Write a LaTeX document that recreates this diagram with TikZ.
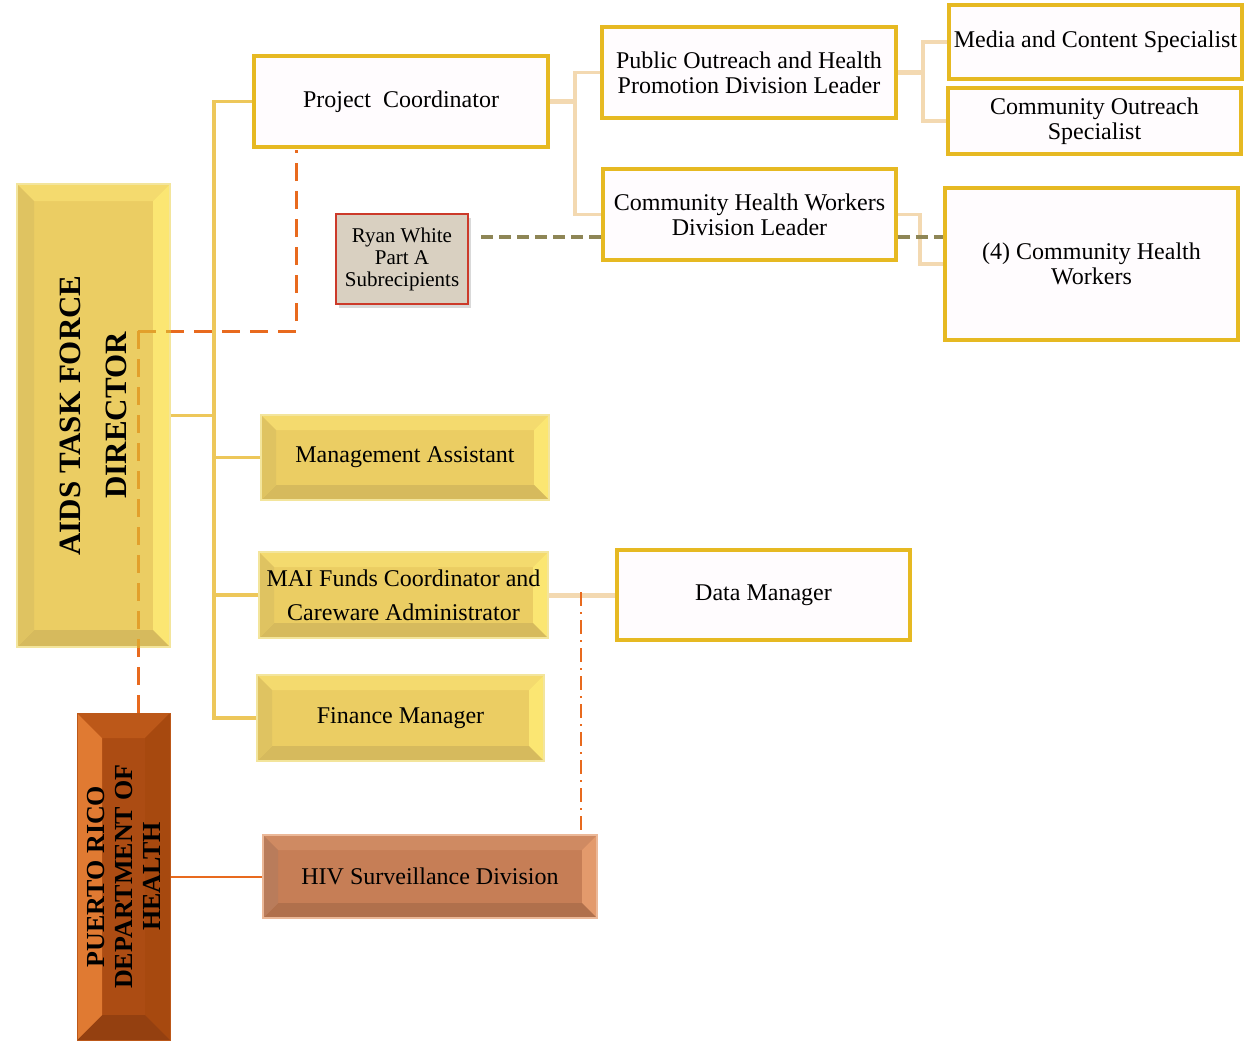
\documentclass[tikz,border=0pt]{standalone}
\usepackage{fontspec}
\setmainfont{Liberation Serif}
\usetikzlibrary{positioning,shadows}

\definecolor{goldface}{HTML}{EBCD63}
\definecolor{goldtop}{HTML}{F4DA6E}
\definecolor{goldright}{HTML}{FBE672}
\definecolor{goldbottom}{HTML}{D6BA5D}
\definecolor{goldleft}{HTML}{DFC361}
\definecolor{goldrim}{HTML}{F3E59C}
\definecolor{rustface}{HTML}{AC4C13}
\definecolor{rusttop}{HTML}{BC5819}
\definecolor{rustright}{HTML}{A7490F}
\definecolor{rustbottom}{HTML}{944010}
\definecolor{rustleft}{HTML}{E07A32}
\definecolor{clayface}{HTML}{C67E56}
\definecolor{claytop}{HTML}{CF8A62}
\definecolor{clayright}{HTML}{E39A6C}
\definecolor{claybottom}{HTML}{B0704C}
\definecolor{clayleft}{HTML}{B97C5B}
\definecolor{boxrim}{HTML}{E6B922}
\definecolor{paper}{HTML}{FFFCFE}
\definecolor{ryanfill}{HTML}{D9D0C1}
\definecolor{ryanrim}{HTML}{CC3A2A}
\definecolor{trunkcol}{HTML}{EDC75A}
\definecolor{tancol}{HTML}{F3D9B1}
\definecolor{dashorange}{HTML}{E86A1E}
\definecolor{dashinside}{HTML}{E2A02C}
\definecolor{olivecol}{HTML}{8E8656}

\tikzset{
  bevel/.style n args={5}{path picture={
    \coordinate (pnw) at (path picture bounding box.north west);
    \coordinate (pne) at (path picture bounding box.north east);
    \coordinate (pse) at (path picture bounding box.south east);
    \coordinate (psw) at (path picture bounding box.south west);
    \fill[#2] (pnw) -- (pne) -- ([xshift=-#1,yshift=-#1]pne) -- ([xshift=#1,yshift=-#1]pnw) -- cycle;
    \fill[#3] (pne) -- (pse) -- ([xshift=-#1,yshift=#1]pse) -- ([xshift=-#1,yshift=-#1]pne) -- cycle;
    \fill[#4] (pse) -- (psw) -- ([xshift=#1,yshift=#1]psw) -- ([xshift=-#1,yshift=#1]pse) -- cycle;
    \fill[#5] (psw) -- (pnw) -- ([xshift=#1,yshift=-#1]pnw) -- ([xshift=#1,yshift=#1]psw) -- cycle;
  }},
  goldbox/.style={draw=goldrim, line width=1.5pt, fill=goldface, inner sep=0pt,
    bevel={15pt}{goldtop}{goldright}{goldbottom}{goldleft}, align=center},
  whitebox/.style={draw=boxrim, line width=3.5pt, fill=paper, inner sep=0pt, align=center},
  bigtext/.style={font=\fontsize{24}{25}\selectfont},
  trunkline/.style={trunkcol, line width=3.5pt},
  tanline/.style={tancol, line width=3.5pt},
  orangedash/.style={dashorange, line width=3pt, dash pattern=on 18pt off 10pt},
  olivedash/.style={olivecol, line width=4pt, dash pattern=on 12pt off 6pt},
  orangedashdot/.style={dashorange, line width=2pt, dash pattern=on 14pt off 6pt on 2pt off 6pt}
}

\begin{document}
\begin{tikzpicture}[x=1pt, y=-1pt]
  \useasboundingbox (0,0) rectangle (1247,1041);

  % joints
  \coordinate (trunk) at (214,0);
  \coordinate (pcbus) at (575,0);
  \coordinate (pubbus) at (923,0);
  \coordinate (chwbus) at (920,0);
  \coordinate (orgjoin) at (138,331);
  \coordinate (corner) at (296,331);
  \coordinate (ddtop) at (581,592);

  % left column
  \node[goldbox, bevel={17pt}{goldtop}{goldright}{goldbottom}{goldleft},
        minimum width=153pt, minimum height=463pt] (dir) at (93.5,415.5) {};
  \node[draw=rusttop, line width=1pt, fill=rustface, inner sep=0pt,
        bevel={25pt}{rusttop}{rustright}{rustbottom}{rustleft},
        minimum width=93pt, minimum height=327pt] (prdoh) at (123.5,876.5) {};

  % dashed links, paler where they cross the director
  \draw[orangedash] (orgjoin) -- (corner) -- (corner |- 0,150);
  \draw[orangedash] (orgjoin) -- (orgjoin |- prdoh.north);
  \begin{scope}
    \clip (dir.south west) rectangle (dir.north east);
    \draw[orangedash, dashinside] (orgjoin) -- (corner);
    \draw[orangedash, dashinside] (orgjoin) -- (orgjoin |- prdoh.north);
  \end{scope}

  \node[rotate=90, align=center, font=\bfseries\fontsize{31}{46}\selectfont] (dirtext) at (dir) {AIDS TASK FORCE\\DIRECTOR};
  \node[rotate=90, align=center, font=\bfseries\fontsize{26}{28}\selectfont] (prdohtext) at (prdoh) {PUERTO RICO\\DEPARTMENT OF\\HEALTH};

  % middle column
  \node[whitebox, bigtext, minimum width=294pt, minimum height=91pt] (pc) at (401,101.5) {Project\ \ Coordinator};
  \node[draw=ryanrim, line width=2.5pt, fill=ryanfill, inner sep=0pt, align=center,
        drop shadow={opacity=.3, shadow xshift=3pt, shadow yshift=-4pt},
        font=\fontsize{21}{22}\selectfont, minimum width=132pt, minimum height=90pt] (ryan) at (402,259) {Ryan White\\Part A\\Subrecipients};
  \node[goldbox, bigtext, minimum width=288pt, minimum height=85pt] (mgmt) at (405,457.5) {Management Assistant};
  \node[goldbox, font=\fontsize{24}{34}\selectfont, minimum width=289pt, minimum height=86pt] (mai) at (403.5,595) {MAI Funds Coordinator and\\Careware Administrator};
  \node[goldbox, bigtext, minimum width=287pt, minimum height=86pt] (fin) at (400.5,718) {Finance Manager};
  \node[draw=clayright!70!white, line width=1.5pt, fill=clayface, inner sep=0pt, bigtext,
        bevel={15pt}{claytop}{clayright}{claybottom}{clayleft},
        minimum width=334pt, minimum height=83pt] (hiv) at (430,876.5) {HIV Surveillance Division};

  % right columns
  \node[whitebox, bigtext, minimum width=294pt, minimum height=91pt] (pub) at (749,72.5) {Public Outreach and Health\\Promotion Division Leader};
  \node[whitebox, bigtext, minimum width=293pt, minimum height=91pt] (chwl) at (749.5,214.5) {Community Health Workers\\Division Leader};
  \node[whitebox, bigtext, minimum width=293pt, minimum height=90pt] (dm) at (763.5,595) {Data Manager};
  \node[whitebox, bigtext, minimum width=293pt, minimum height=74pt] (media) at (1095.5,42) {Media and Content Specialist};
  \node[whitebox, bigtext, minimum width=293pt, minimum height=66pt] (cos) at (1094.5,121) {Community Outreach\\Specialist};
  \node[whitebox, bigtext, minimum width=293pt, minimum height=152pt] (chw) at (1091.5,264) {(4) Community Health\\Workers};

  % reporting lines
  \draw[trunkline] (pc.west) -- (pc.west -| trunk) -- (fin.west -| trunk) -- (fin.west);
  \draw[trunkline] (dir.east) -- (dir.east -| trunk);
  \draw[trunkline] (mgmt.west) -- (mgmt.west -| trunk);
  \draw[trunkline] (mai.west) -- (mai.west -| trunk);

  \draw[tanline, line width=5pt] (pc.east) -- (pc.east -| pcbus);
  \draw[tanline] (pub.west) -- (pub.west -| pcbus) -- (chwl.west -| pcbus) -- (chwl.west);
  \draw[tanline, line width=5pt] (pub.east) -- (pub.east -| pubbus);
  \draw[tanline] (media.west) -- (media.west -| pubbus) -- (cos.west -| pubbus) -- (cos.west);
  \draw[tanline] (chwl.east) -- (chwl.east -| chwbus) -- (chw.west -| chwbus) -- (chw.west);
  \draw[tanline, line width=5pt] (mai.east) -- (dm.west);

  \draw[olivedash] ([shift={(12,-22)}]ryan.east) -- ([yshift=-22.5pt]chwl.west);
  \draw[olivedash] ([yshift=-22.5pt]chwl.east) -- ([yshift=-22.5pt]chwl.east -| chw.west);

  \draw[orangedashdot] (ddtop) -- (ddtop |- hiv.north);
  \draw[dashorange, line width=2pt] (prdoh.east) -- (hiv.west);
\end{tikzpicture}
\end{document}
